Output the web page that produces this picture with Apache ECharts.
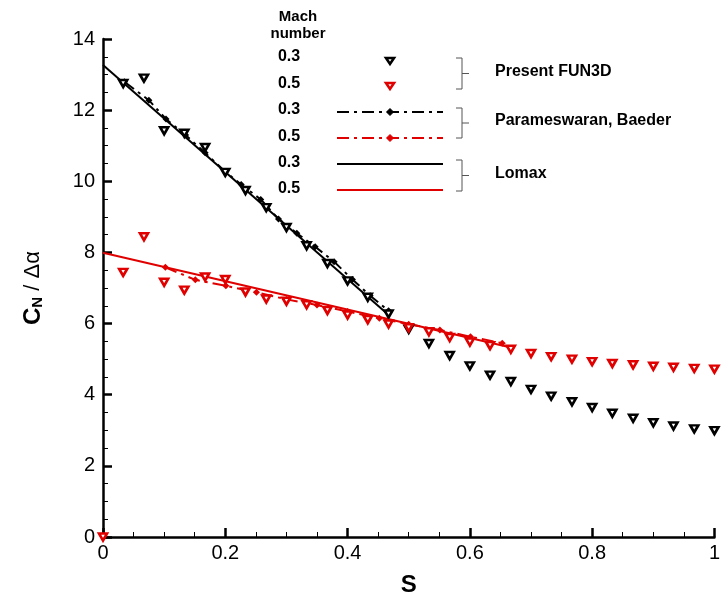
<!DOCTYPE html>
<html><head><meta charset="utf-8">
<script src="https://cdn.jsdelivr.net/npm/echarts@6/dist/echarts.min.js"></script>
<style>html,body{margin:0;padding:0;background:#fff}#c{width:723px;height:604px}</style>
</head><body><div id="c"></div>
<script>
const sFun03 = [0.033,0.067,0.1,0.133,0.167,0.2,0.233,0.267,0.3,0.333,0.367,0.4,0.433,0.467,0.5,0.533,0.567,0.6,0.633,0.667,0.7,0.733,0.767,0.8,0.833,0.867,0.9,0.933,0.967,1.0];
const cnFun03 = [12.75,12.9,11.42,11.35,10.95,10.25,9.74,9.26,8.7,8.19,7.69,7.2,6.74,6.27,5.84,5.44,5.10,4.81,4.55,4.37,4.15,3.96,3.80,3.64,3.48,3.34,3.21,3.12,3.04,2.99];
const sFun05 = [0,0.033,0.067,0.1,0.133,0.167,0.2,0.233,0.267,0.3,0.333,0.367,0.4,0.433,0.467,0.5,0.533,0.567,0.6,0.633,0.667,0.7,0.733,0.767,0.8,0.833,0.867,0.9,0.933,0.967,1.0];
const cnFun05 = [0,7.44,8.44,7.16,6.94,7.31,7.24,6.89,6.69,6.63,6.53,6.37,6.24,6.11,5.99,5.88,5.77,5.61,5.48,5.38,5.28,5.16,5.07,5.0,4.93,4.88,4.84,4.80,4.77,4.74,4.72];
const sPB03 = [0.035,0.075,0.103,0.135,0.167,0.2,0.226,0.258,0.287,0.317,0.347,0.378,0.408,0.437,0.467];
const cnPB03 = [12.8,12.28,11.75,11.3,10.8,10.27,9.91,9.49,8.94,8.54,8.16,7.74,7.24,6.78,6.36];
const sPB05 = [0.102,0.151,0.201,0.251,0.3,0.35,0.4,0.452,0.5,0.551,0.601,0.653];
const cnPB05 = [7.58,7.23,7.06,6.88,6.68,6.52,6.34,6.15,5.98,5.82,5.63,5.45];
const sLomax03 = [0, 0.469];
const cnLomax03 = [13.27, 6.21];
const sLomax05 = [0, 0.667];
const cnLomax05 = [7.99, 5.33];
const xTicks = [0, 0.2, 0.4, 0.6, 0.8, 1];
const yTicks = [0, 2, 4, 6, 8, 10, 12, 14];
const machLabels = ['0.3','0.5','0.3','0.5','0.3','0.5'];
const groupLabels = ['Present FUN3D','Parameswaran, Baeder','Lomax'];

const RED = '#e00000', BLK = '#000000';
const FONT = '"Liberation Sans", Arial, sans-serif';
const zip = (a, b) => a.map((v, i) => [v, b[i]]);
const dashDot = [12, 5, 3, 5];

const chart = echarts.init(document.getElementById('c'), null, {renderer: 'canvas'});

function tri(color) {
  return {type: 'scatter', symbol: 'triangle', symbolRotate: 180, symbolSize: [8, 7],
    itemStyle: {color: '#fff', borderColor: color, borderWidth: 2.6, opacity: 1}, z: 5};
}

const graphics = [];
graphics.push({type: 'text', style: {text: 'Mach\nnumber', x: 298, y: 8, align: 'center', font: 'bold 15px ' + FONT, lineHeight: 17, fill: '#000'}});
const rowY = [57, 84, 110, 137, 163, 189];
machLabels.forEach((t, i) => graphics.push({type: 'text', style: {text: t, x: 289, y: rowY[i], align: 'center', verticalAlign: 'middle', font: 'bold 16px ' + FONT, fill: '#000'}}));
// legend symbols
graphics.push({type: 'polygon', shape: {points: [[386, 58], [394, 58], [390, 64]]}, style: {fill: '#fff', stroke: BLK, lineWidth: 2.6}});
graphics.push({type: 'polygon', shape: {points: [[386, 83], [394, 83], [390, 89]]}, style: {fill: '#fff', stroke: RED, lineWidth: 2.6}});
[[112, BLK, true], [138, RED, true], [164, BLK, false], [190, RED, false]].forEach(([y, c, dd]) => {
  graphics.push({type: 'line', shape: {x1: 337, y1: y, x2: 443, y2: y}, style: {stroke: c, lineWidth: 2, lineDash: dd ? dashDot : null}});
  if (dd) graphics.push({type: 'polygon', shape: {points: [[390, y - 3.5], [393.5, y], [390, y + 3.5], [386.5, y]]}, style: {fill: c, stroke: c}});
});
// brackets
[[58, 89], [108, 138], [160, 191]].forEach(([t, b], i) => {
  const m = (t + b) / 2;
  graphics.push({type: 'polyline', shape: {points: [[456, t], [462, t], [462, b], [456, b]]}, style: {stroke: '#555', lineWidth: 1, fill: null}});
  graphics.push({type: 'line', shape: {x1: 462, y1: m, x2: 469, y2: m}, style: {stroke: '#555', lineWidth: 1}});
  graphics.push({type: 'text', style: {text: groupLabels[i], x: 495, y: m - 2, verticalAlign: 'middle', font: 'bold 16px ' + FONT, fill: '#000'}});
});

const option = {
  backgroundColor: '#fff',
  animation: false,
  textStyle: {fontFamily: FONT},
  grid: {left: 103, right: 7, top: 39, bottom: 67, containLabel: false},
  xAxis: {
    type: 'value', min: 0, max: 1, interval: 0.2,
    name: 'S', nameLocation: 'middle', nameGap: 36,
    nameTextStyle: {fontSize: 24, fontWeight: 'bold', color: '#000', fontFamily: FONT},
    axisLine: {lineStyle: {color: '#000', width: 2.5}},
    axisTick: {inside: true, length: 9, lineStyle: {color: '#000', width: 2.5}},
    minorTick: {show: true, splitNumber: 4, length: 5, lineStyle: {color: '#000', width: 1}},
    axisLabel: {fontSize: 20, color: '#000', margin: 6, formatter: v => { const i = xTicks.findIndex(t => Math.abs(t - v) < 1e-9); return i >= 0 ? String(xTicks[i]) : ''; }},
    splitLine: {show: false}
  },
  yAxis: {
    type: 'value', min: 0, max: 14, interval: 2,
    name: '{c|C}{n|N}{r| / Δα}', nameLocation: 'middle', nameGap: 58, nameRotate: 90,
    nameTextStyle: {color: '#000', rich: {
      c: {fontSize: 24, fontWeight: 'bold', fontFamily: FONT, color: '#000'},
      n: {fontSize: 15, fontWeight: 'bold', fontFamily: FONT, color: '#000', verticalAlign: 'bottom', padding: [8, 0, 0, 0]},
      r: {fontSize: 22, fontFamily: FONT, color: '#000'}
    }},
    axisLine: {lineStyle: {color: '#000', width: 2.5}},
    axisTick: {inside: true, length: 9, lineStyle: {color: '#000', width: 2.5}},
    minorTick: {show: true, splitNumber: 4, length: 5, lineStyle: {color: '#000', width: 1}},
    axisLabel: {fontSize: 20, color: '#000', margin: 8, formatter: v => yTicks.includes(v) ? String(v) : ''},
    splitLine: {show: false}
  },
  series: [
    {type: 'line', data: zip(sLomax03, cnLomax03), symbol: 'none', lineStyle: {color: BLK, width: 2}, z: 2},
    {type: 'line', data: zip(sLomax05, cnLomax05), symbol: 'none', lineStyle: {color: RED, width: 2}, z: 2},
    {type: 'line', data: zip(sPB03, cnPB03), symbol: 'diamond', symbolSize: 7, itemStyle: {color: BLK}, lineStyle: {color: BLK, width: 2, type: dashDot}, z: 3},
    {type: 'line', data: zip(sPB05, cnPB05), symbol: 'diamond', symbolSize: 7, itemStyle: {color: RED}, lineStyle: {color: RED, width: 2, type: dashDot}, z: 3},
    Object.assign(tri(BLK), {data: zip(sFun03, cnFun03)}),
    Object.assign(tri(RED), {data: zip(sFun05, cnFun05)})
  ],
  graphic: graphics
};
chart.setOption(option);
</script>
</body></html>
